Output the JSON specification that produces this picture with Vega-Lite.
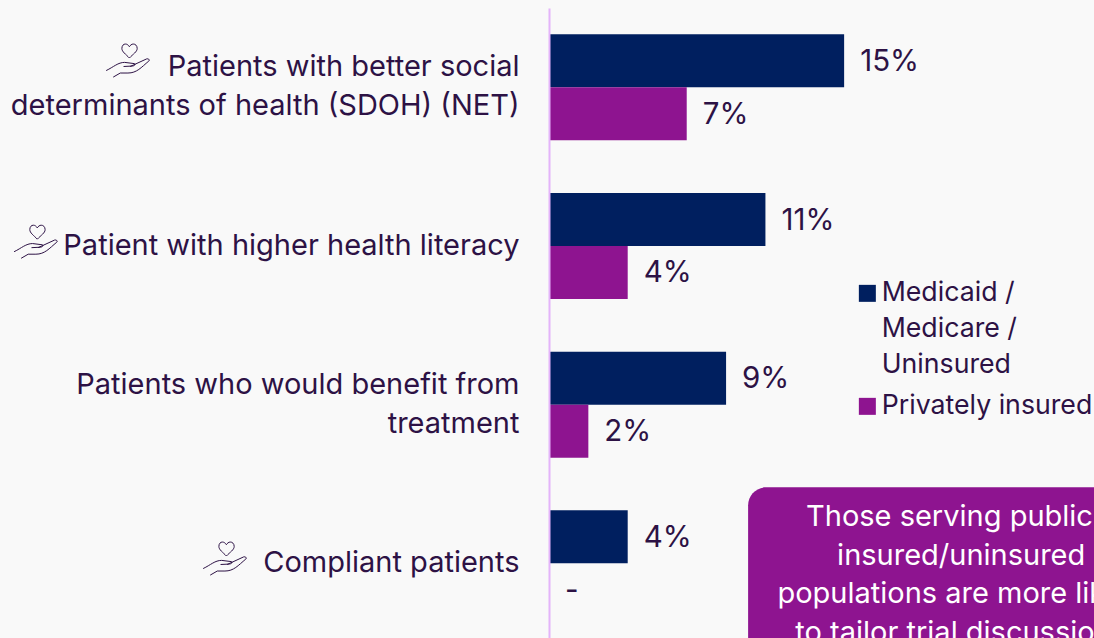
{
  "$schema": "https://vega.github.io/schema/vega-lite/v6.json",
  "width": 545,
  "height": 630,
  "autosize": {"type": "none"},
  "padding": {"left": 549, "top": 8, "right": 0, "bottom": 0},
  "background": "#F9F9F9",
  "config": {
    "view": {"stroke": null},
    "font": "Inter",
    "text": {"font": "Inter", "fontSize": 29, "color": "#2D1245"}
  },
  "datasets": {
    "rows": [
      {"reason": "Patients with better social determinants of health (SDOH) (NET)", "payer": "Medicaid / Medicare / Uninsured", "pct": 15, "label": "15%"},
      {"reason": "Patients with better social determinants of health (SDOH) (NET)", "payer": "Privately insured", "pct": 7, "label": "7%"},
      {"reason": "Patient with higher health literacy", "payer": "Medicaid / Medicare / Uninsured", "pct": 11, "label": "11%"},
      {"reason": "Patient with higher health literacy", "payer": "Privately insured", "pct": 4, "label": "4%"},
      {"reason": "Patients who would benefit from treatment", "payer": "Medicaid / Medicare / Uninsured", "pct": 9, "label": "9%"},
      {"reason": "Patients who would benefit from treatment", "payer": "Privately insured", "pct": 2, "label": "2%"},
      {"reason": "Compliant patients", "payer": "Medicaid / Medicare / Uninsured", "pct": 4, "label": "4%"},
      {"reason": "Compliant patients", "payer": "Privately insured", "pct": 0, "label": "-"}
    ]
  },
  "data": {"name": "rows"},
  "encoding": {
    "y": {
      "field": "reason",
      "type": "nominal",
      "title": null,
      "scale": {
        "domain": [
          "Patients with better social determinants of health (SDOH) (NET)",
          "Patient with higher health literacy",
          "Patients who would benefit from treatment",
          "Compliant patients"
        ],
        "range": [0, 634.67],
        "paddingInner": 0.332,
        "paddingOuter": 0.166
      },
      "axis": {
        "zindex": 1,
        "domainColor": "#E4B4FA",
        "domainWidth": 2,
        "ticks": false,
        "labelPadding": 30,
        "labelFont": "Inter",
        "labelFontSize": 29,
        "labelColor": "#2D1245",
        "labelLimit": 560,
        "labelLineHeight": 39,
        "labelOverlap": false,
        "labelOffset": {"condition": {"test": "length(datum.value) > 40", "value": -20}, "value": 0},
        "labelExpr": "datum.label == 'Patients with better social determinants of health (SDOH) (NET)' ? ['Patients with better social', 'determinants of health (SDOH) (NET)'] : datum.label == 'Patients who would benefit from treatment' ? ['Patients who would benefit from', 'treatment'] : datum.label"
      }
    }
  },
  "layer": [
    {
      "mark": {"type": "bar"},
      "encoding": {
        "x": {"field": "pct", "type": "quantitative", "axis": null, "scale": {"domain": [0, 27.7], "nice": false}},
        "yOffset": {"field": "payer", "type": "nominal", "scale": {"paddingInner": 0, "paddingOuter": 0}},
        "color": {
          "field": "payer",
          "type": "nominal",
          "scale": {"domain": ["Medicaid / Medicare / Uninsured", "Privately insured"], "range": ["#001F5F", "#8E1490"]},
          "legend": {
            "title": null,
            "orient": "none",
            "legendX": 305,
            "legendY": 272,
            "symbolType": "square",
            "symbolSize": 289,
            "symbolStrokeWidth": 0,
            "symbolOpacity": 1,
            "labelFont": "Inter",
            "labelFontSize": 26.7,
            "labelColor": "#2D1245",
            "labelLimit": 400,
            "labelOffset": 1,
            "rowPadding": 13,
            "encoding": {"labels": {"lineHeight": {"value": 36}}},
            "labelExpr": "datum.label == 'Medicaid / Medicare / Uninsured' ? ['Medicaid /', 'Medicare /', 'Uninsured'] : datum.label"
          }
        }
      }
    },
    {
      "mark": {"type": "text", "align": "left", "baseline": "middle", "dx": 16, "dy": 1, "fontSize": 29.5},
      "encoding": {
        "x": {"field": "pct", "type": "quantitative"},
        "yOffset": {"field": "payer", "type": "nominal", "scale": {"paddingInner": 0, "paddingOuter": 0}},
        "text": {"field": "label"}
      }
    },
    {
      "data": {"values": [{"note": "callout"}]},
      "mark": {"type": "rect", "color": "#8E1490", "cornerRadius": 18, "height": 300, "yOffset": 74},
      "encoding": {"x": {"datum": 10.12}, "x2": {"datum": 35}, "y": {"datum": "Compliant patients"}}
    },
    {
      "data": {"values": [{"note": "callout"}]},
      "mark": {
        "type": "text",
        "align": "center",
        "baseline": "top",
        "color": "#FFFFFF",
        "yOffset": -60,
        "lineHeight": 38.5,
        "text": ["Those serving publicly", "insured/uninsured", "populations are more likely", "to tailor trial discussions"]
      },
      "encoding": {"x": {"datum": 20.95}, "y": {"datum": "Compliant patients"}}
    },
    {
      "data": {"values": [{"note": "icon"}]},
      "mark": {
        "type": "point", "filled": false, "stroke": "#2D1245", "strokeWidth": 1, "opacity": 1, "size": 1936, "clip": false, "yOffset": -27,
        "shape": "M0.065 -0.106C-0.1 -0.28 -0.276 -0.39 -0.276 -0.54C-0.276 -0.67 -0.2 -0.745 -0.114 -0.74C-0.04 -0.745 0.03 -0.68 0.065 -0.62C0.1 -0.68 0.17 -0.745 0.244 -0.74C0.33 -0.745 0.42 -0.67 0.42 -0.54C0.42 -0.39 0.23 -0.28 0.065 -0.106ZM-0.99 0.465C-0.65 0.3 -0.45 0.093 -0.15 0.093L0.3 0.15C0.36 0.186 0.3 0.25 0.2 0.26L-0.2 0.28M0.1 0.28L0.85 -0.065C0.95 -0.093 1 0 0.95 0.03C0.6 0.325 0.4 0.577 0 0.577L-0.35 0.577L-0.67 0.763"
      },
      "encoding": {"x": {"datum": -21.4}, "y": {"datum": "Patients with better social determinants of health (SDOH) (NET)"}}
    },
    {
      "data": {"values": [{"note": "icon"}]},
      "mark": {
        "type": "point", "filled": false, "stroke": "#2D1245", "strokeWidth": 1, "opacity": 1, "size": 1936, "clip": false, "yOffset": -4.5,
        "shape": "M0.065 -0.106C-0.1 -0.28 -0.276 -0.39 -0.276 -0.54C-0.276 -0.67 -0.2 -0.745 -0.114 -0.74C-0.04 -0.745 0.03 -0.68 0.065 -0.62C0.1 -0.68 0.17 -0.745 0.244 -0.74C0.33 -0.745 0.42 -0.67 0.42 -0.54C0.42 -0.39 0.23 -0.28 0.065 -0.106ZM-0.99 0.465C-0.65 0.3 -0.45 0.093 -0.15 0.093L0.3 0.15C0.36 0.186 0.3 0.25 0.2 0.26L-0.2 0.28M0.1 0.28L0.85 -0.065C0.95 -0.093 1 0 0.95 0.03C0.6 0.325 0.4 0.577 0 0.577L-0.35 0.577L-0.67 0.763"
      },
      "encoding": {"x": {"datum": -26.08}, "y": {"datum": "Patient with higher health literacy"}}
    },
    {
      "data": {"values": [{"note": "icon"}]},
      "mark": {
        "type": "point", "filled": false, "stroke": "#2D1245", "strokeWidth": 1, "opacity": 1, "size": 1936, "clip": false, "yOffset": -5,
        "shape": "M0.065 -0.106C-0.1 -0.28 -0.276 -0.39 -0.276 -0.54C-0.276 -0.67 -0.2 -0.745 -0.114 -0.74C-0.04 -0.745 0.03 -0.68 0.065 -0.62C0.1 -0.68 0.17 -0.745 0.244 -0.74C0.33 -0.745 0.42 -0.67 0.42 -0.54C0.42 -0.39 0.23 -0.28 0.065 -0.106ZM-0.99 0.465C-0.65 0.3 -0.45 0.093 -0.15 0.093L0.3 0.15C0.36 0.186 0.3 0.25 0.2 0.26L-0.2 0.28M0.1 0.28L0.85 -0.065C0.95 -0.093 1 0 0.95 0.03C0.6 0.325 0.4 0.577 0 0.577L-0.35 0.577L-0.67 0.763"
      },
      "encoding": {"x": {"datum": -16.47}, "y": {"datum": "Compliant patients"}}
    }
  ]
}
